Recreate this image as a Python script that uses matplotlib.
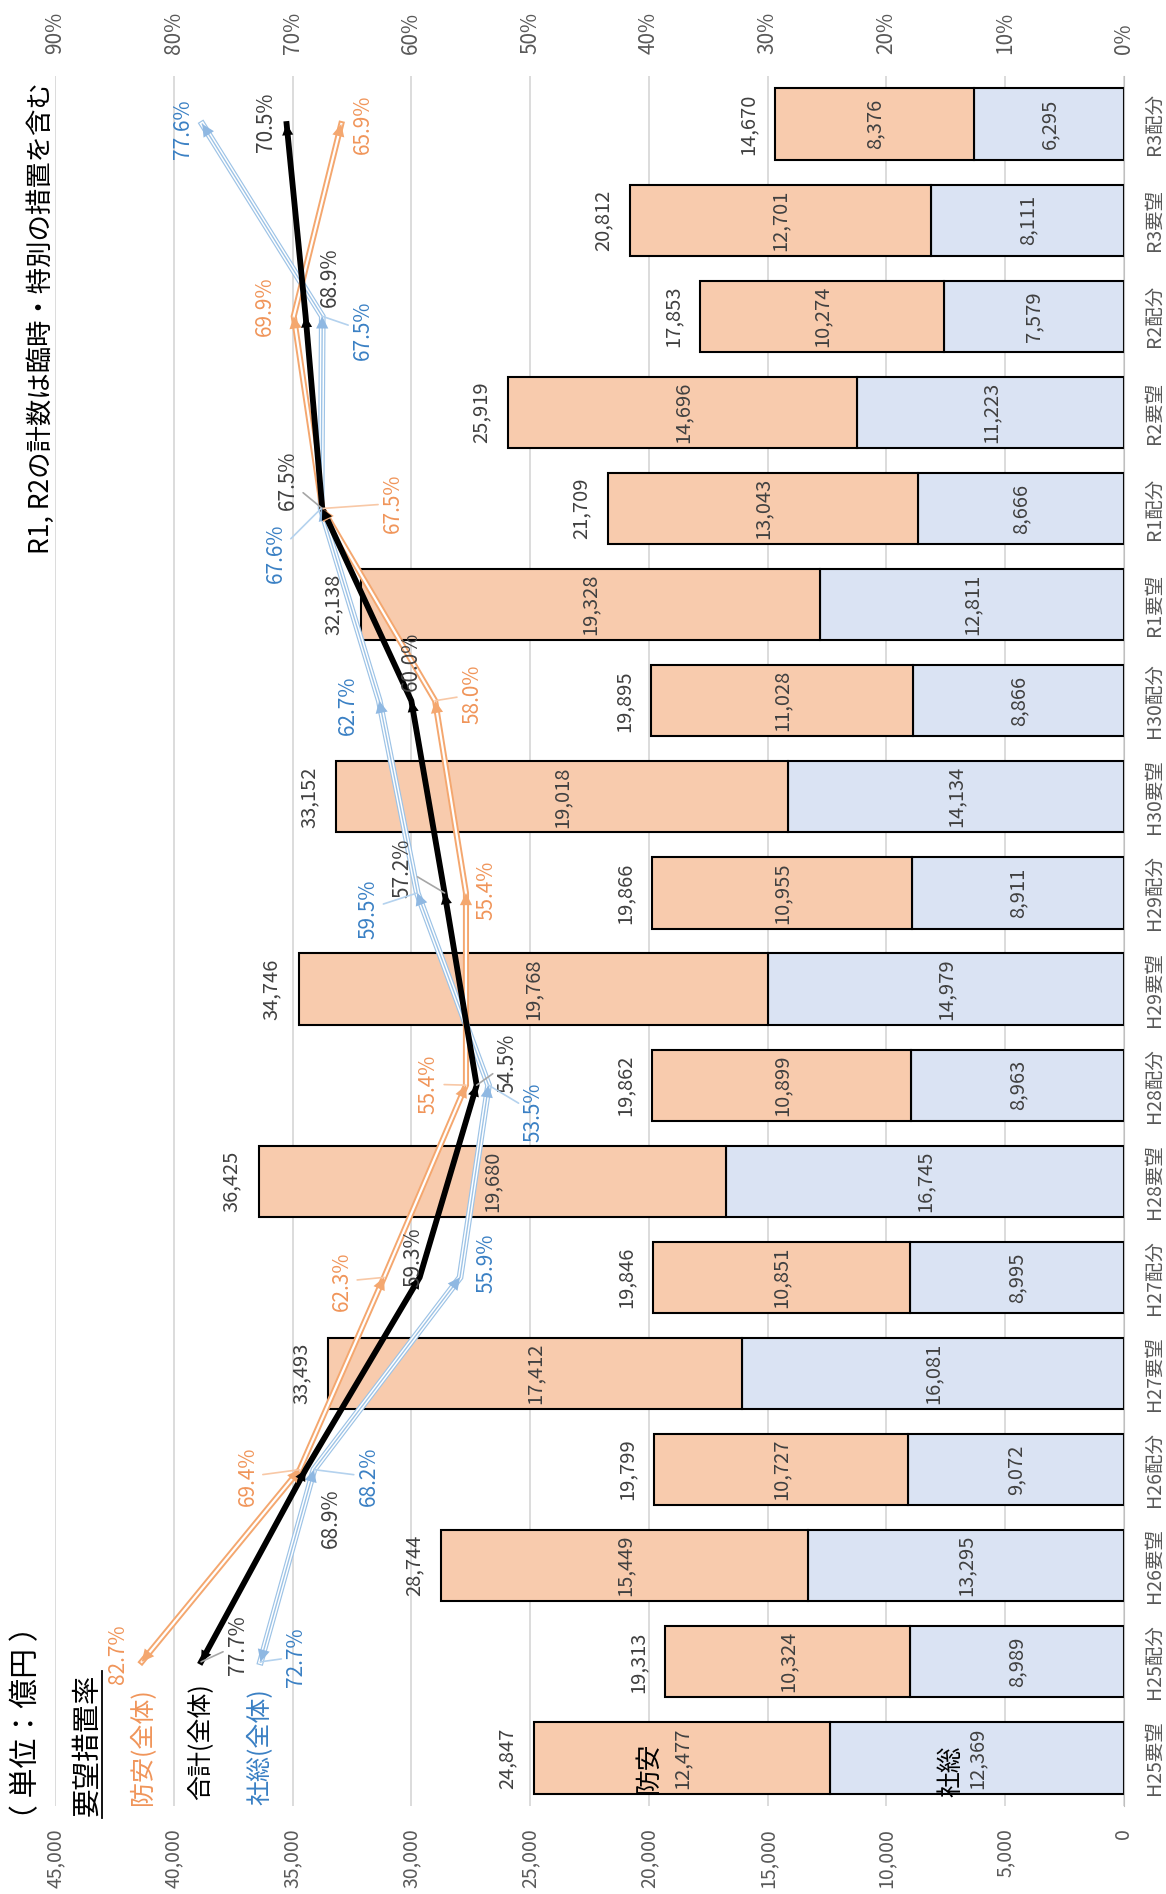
import numpy as np
import matplotlib.pyplot as plt
from matplotlib.lines import Line2D

plt.rcParams['font.family'] = ['Noto Sans CJK JP', 'DejaVu Sans']

# data (単位：億円)
categories = ['H25要望', 'H25配分', 'H26要望', 'H26配分', 'H27要望', 'H27配分',
              'H28要望', 'H28配分', 'H29要望', 'H29配分', 'H30要望', 'H30配分',
              'R1要望', 'R1配分', 'R2要望', 'R2配分', 'R3要望', 'R3配分']
shaso = [12369, 8989, 13295, 9072, 16081, 8995, 16745, 8963, 14979,
         8911, 14134, 8866, 12811, 8666, 11223, 7579, 8111, 6295]
boan = [12477, 10324, 15449, 10727, 17412, 10851, 19680, 10899, 19768,
        10955, 19018, 11028, 19328, 13043, 14696, 10274, 12701, 8376]
totals = [24847, 19313, 28744, 19799, 33493, 19846, 36425, 19862, 34746,
          19866, 33152, 19895, 32138, 21709, 25919, 17853, 20812, 14670]

# 要望措置率 (%), plotted on the 配分 categories
rate_boan = [82.7, 69.4, 62.3, 55.4, 55.4, 58.0, 67.5, 69.9, 65.9]
rate_total = [77.7, 68.9, 59.3, 54.5, 57.2, 60.0, 67.5, 68.9, 70.5]
rate_shaso = [72.7, 68.2, 55.9, 53.5, 59.5, 62.7, 67.6, 67.5, 77.6]

# label offsets in pixels (right, down) and leader flags
off_boan = [(-24, -8), (-52, 7), (-42, 4), (-37, -1), (21, -3), (37, -6), (71, -5), (-29, -10), (22, 0)]
off_total = [(37, -17), (25, 49), (-6, -20), (31, -22), (-42, -25), (0, -39), (-34, -28), (24, -39), (-21, -2)]
off_shaso = [(36, -5), (55, 7), (26, -14), (45, 27), (-49, 16), (-31, 5), (-45, 45), (41, 14), (-19, 5)]
lead_boan = [False, True, True, True, False, True, True, False, False]
lead_total = [True, False, False, True, True, False, True, False, False]
lead_shaso = [True, True, False, True, True, False, True, True, False]

c_peach = '#f8cbad'
c_lblue = '#dae3f3'
c_orange_line = '#f4a76f'
c_orange_txt = '#f0955a'
c_blue_line = '#9dc3e6'
c_blue_txt = '#3a80c4'
c_gray = '#595959'
c_dark = '#404040'

W, H = 1166, 1894
fig = plt.figure(figsize=(W / 100, H / 100), dpi=100)
ax = fig.add_axes([55 / W, 88 / H, (1124 - 55) / W, (1806 - 76) / H])

y = np.arange(len(categories))
ax.barh(y, shaso, height=0.74, color=c_lblue, edgecolor='black', linewidth=1.5, zorder=2)
ax.barh(y, boan, left=shaso, height=0.74, color=c_peach, edgecolor='black', linewidth=1.5, zorder=2)

ax.set_xlim(45000, 0)
ax.set_ylim(-0.5, len(categories) - 0.5)
ax.set_xticks(range(0, 45001, 5000))
ax.set_xticklabels(['{:,}'.format(v) for v in range(0, 45001, 5000)])
ax.set_yticks(y)
ax.set_yticklabels(categories)
ax.grid(axis='x', color='#d9d9d9', lw=1.3)
ax.set_axisbelow(True)
for s in ['top', 'left', 'bottom']:
    ax.spines[s].set_visible(False)
ax.spines['right'].set_color('#bfbfbf')
ax.yaxis.tick_right()
ax.tick_params(axis='x', length=0, pad=16, labelrotation=90, labelsize=14, labelcolor=c_gray)
ax.tick_params(axis='y', length=0, pad=14, labelrotation=90, labelsize=14, labelcolor=c_gray)
for t in ax.get_yticklabels():
    t.set_va('center')
    t.set_ha('left')

# bar value labels
for i in y:
    ax.annotate('{:,}'.format(totals[i]), xy=(totals[i], i), xytext=(-27, 0),
                textcoords='offset pixels', rotation=90, ha='center', va='center',
                fontsize=14.5, color=c_dark)
    ax.text(shaso[i] + boan[i] / 2, i, '{:,}'.format(boan[i]), rotation=90,
            ha='center', va='center', fontsize=14.5, color=c_dark, zorder=3)
    ax.text(shaso[i] / 2, i, '{:,}'.format(shaso[i]), rotation=90,
            ha='center', va='center', fontsize=14.5, color=c_dark, zorder=3)

# series names inside the first bar
ax.annotate('防安', xy=(shaso[0] + boan[0] / 2, 0), xytext=(-33, -9), textcoords='offset pixels',
            rotation=90, ha='center', va='center', fontsize=18.5, color='black', zorder=3)
ax.annotate('社総', xy=(shaso[0] / 2, 0), xytext=(-26, -13), textcoords='offset pixels',
            rotation=90, ha='center', va='center', fontsize=18.5, color='black', zorder=3)

# rate axis
ax2 = ax.twiny()
ax2.set_xlim(90, 0)
ax2.set_xticks(range(0, 91, 10))
ax2.set_xticklabels(['{}%'.format(v) for v in range(0, 91, 10)])
ax2.tick_params(axis='x', length=0, pad=16, labelrotation=90, labelsize=15, labelcolor=c_gray)
for s in ax2.spines.values():
    s.set_visible(False)

ry = [i for i, c in enumerate(categories) if c.endswith('配分')]


def heads(xs, ys, color, size):
    pts = list(zip(xs, ys))
    # first point: head pointing away from the next point
    ax2.annotate('', xy=pts[0], xytext=pts[1],
                 arrowprops=dict(arrowstyle='-|>', color=color, lw=0, shrinkA=0, shrinkB=0,
                                 mutation_scale=size), zorder=6)
    for a, b in zip(pts[:-1], pts[1:]):
        ax2.annotate('', xy=b, xytext=a,
                     arrowprops=dict(arrowstyle='-|>', color=color, lw=0, shrinkA=0, shrinkB=0,
                                     mutation_scale=size), zorder=6)


# 社総: triple thin line
ax2.plot(rate_shaso, ry, color=c_blue_line, lw=4.8, solid_joinstyle='miter', zorder=4)
ax2.plot(rate_shaso, ry, color='white', lw=3.1, solid_joinstyle='miter', zorder=4)
ax2.plot(rate_shaso, ry, color=c_blue_line, lw=1.0, solid_joinstyle='miter', zorder=4)
heads(rate_shaso, ry, '#8fb8e2', 22)
# 防安: double line
ax2.plot(rate_boan, ry, color=c_orange_line, lw=4.4, solid_joinstyle='miter', zorder=4)
ax2.plot(rate_boan, ry, color='white', lw=1.6, solid_joinstyle='miter', zorder=4)
heads(rate_boan, ry, c_orange_line, 22)
# 合計: thick black
ax2.plot(rate_total, ry, color='black', lw=4.2, zorder=5)
heads(rate_total, ry, 'black', 20)


def rate_labels(vals, offs, leads, tcolor, lcolor):
    for v, yy, (dx, dy), ld in zip(vals, ry, offs, leads):
        props = dict(arrowstyle='-', color=lcolor, lw=1.2, shrinkA=1, shrinkB=0) if ld else None
        ax2.annotate('{:.1f}%'.format(v), xy=(v, yy), xytext=(dx, -dy), textcoords='offset pixels',
                     rotation=90, ha='center', va='center', fontsize=15, color=tcolor,
                     arrowprops=props, zorder=7)


rate_labels(rate_boan, off_boan, lead_boan, c_orange_txt, '#f8c8a6')
rate_labels(rate_total, off_total, lead_total, c_dark, '#a6a6a6')
rate_labels(rate_shaso, off_shaso, lead_shaso, c_blue_txt, '#b4d2ee')

# titles and legend texts
fig.text(41 / W, 1 - 318 / H, 'R1, R2の計数は臨時・特別の措置を含む', rotation=90,
         ha='center', va='center', fontsize=19, color='black')
fig.text(27 / W, 1 - 1723 / H, '（ 単位：億円 ）', rotation=90,
         ha='center', va='center', fontsize=21.5, color='black')
fig.text(87 / W, 1 - 1745 / H, '要望措置率', rotation=90,
         ha='center', va='center', fontsize=20.5, color='black')
fig.add_artist(Line2D([102 / W, 102 / W], [1 - 1671 / H, 1 - 1818 / H], color='black', lw=1.3))
fig.text(143 / W, 1 - 1747 / H, '防安(全体)', rotation=90,
         ha='center', va='center', fontsize=18, color=c_orange_txt)
fig.text(201 / W, 1 - 1742 / H, '合計(全体)', rotation=90,
         ha='center', va='center', fontsize=18, color='black')
fig.text(261 / W, 1 - 1747 / H, '社総(全体)', rotation=90,
         ha='center', va='center', fontsize=18, color=c_blue_txt)

fig.savefig('out.png', dpi=100)
